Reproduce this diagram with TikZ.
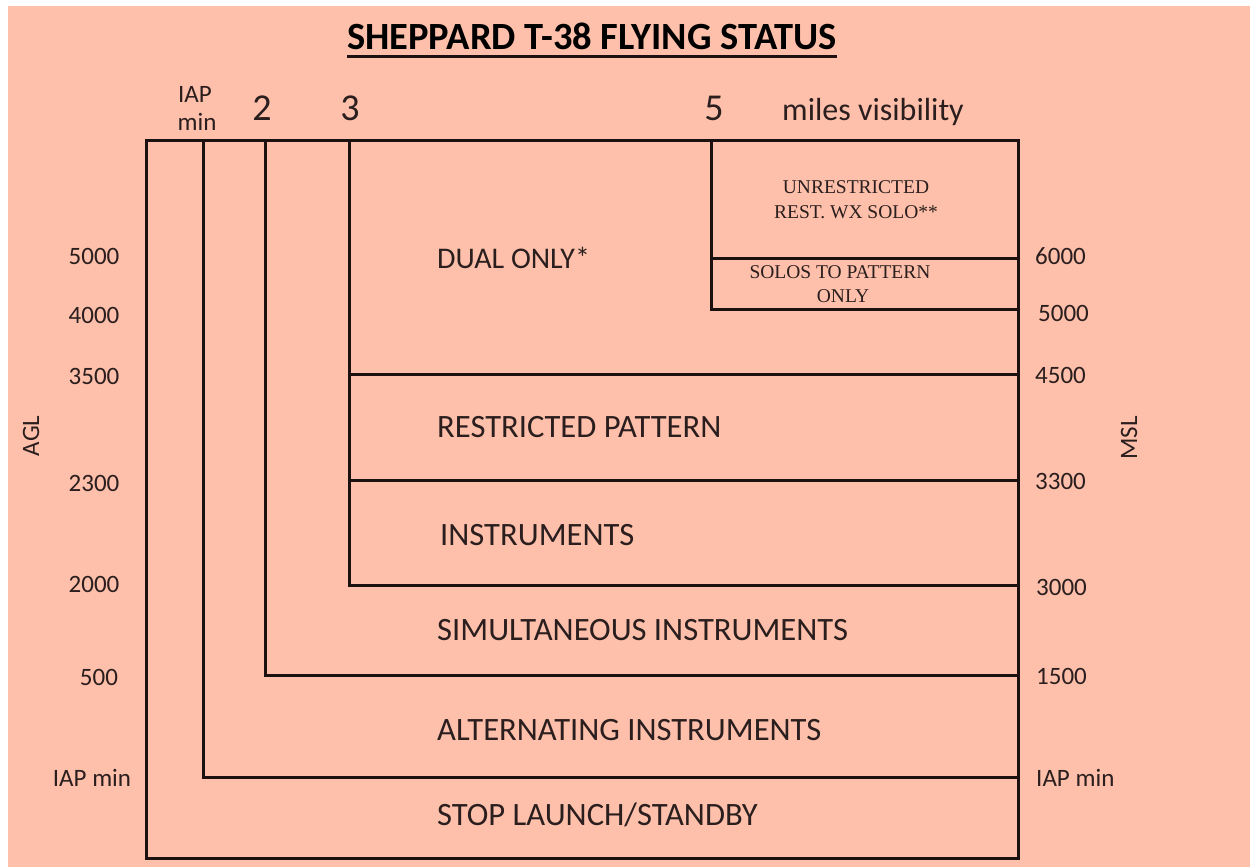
\documentclass[tikz,border=0pt]{standalone}
\usepackage{fontspec}
\setmainfont{Carlito}
\newfontfamily\seriffont{Liberation Serif}
\definecolor{salmon}{RGB}{254,192,170}
\definecolor{ink}{RGB}{28,16,16}
\definecolor{txt}{RGB}{42,30,30}
\tikzset{
  grid line/.style={line width=3pt, draw=ink, line cap=rect},
  zone/.style={anchor=base west, inner sep=0pt, text=txt, font=\fontsize{32.6}{32.6}\selectfont},
  axis/.style={anchor=base, inner sep=0pt, text=txt, font=\fontsize{25}{25}\selectfont},
  raxis/.style={anchor=base west, inner sep=0pt, text=txt, font=\fontsize{25}{25}\selectfont},
  vis/.style={anchor=base, inner sep=0pt, text=txt, font=\fontsize{38}{38}\selectfont},
  small/.style={anchor=base, inner sep=0pt, text=txt, font=\seriffont\fontsize{19.5}{19.5}\selectfont},
}
\begin{document}
\begin{tikzpicture}[x=1pt,y=-1pt]
\useasboundingbox (0,0) rectangle (1250,867);
\fill[white] (0,0) rectangle (1250,867);
\fill[salmon] (8,6) rectangle (1250,867);

% title
\node[anchor=base, inner sep=0pt, font=\bfseries\fontsize{38.5}{38.5}\selectfont] (title) at (592,50) {SHEPPARD T-38 FLYING STATUS};
\draw[line width=3pt, draw=ink] ([yshift=-7pt]title.base west) -- ([yshift=-7pt]title.base east);

% grid
\draw[grid line] (146,140) rectangle (1018,858);
\draw[grid line] (203,140) -- (203,777) -- (1018,777);
\draw[grid line] (265,140) -- (265,675) -- (1018,675);
\draw[grid line] (349,140) -- (349,585) -- (1018,585);
\draw[grid line] (349,480) -- (1018,480);
\draw[grid line] (349,374) -- (1018,374);
\draw[grid line] (711,140) -- (711,309) -- (1018,309);
\draw[grid line] (711,258) -- (1018,258);

% top labels
\node[axis] (iap) at (195,102) {IAP};
\node[axis] (min) at (197,130) {min};
\node[vis] (v2) at (262,120) {2};
\node[vis] (v3) at (350,120) {3};
\node[vis] (v5) at (714,120) {5};
\node[anchor=base, inner sep=0pt, text=txt, font=\fontsize{32}{32}\selectfont] (miles) at (873,120) {miles visibility};

% zone labels
\node[zone, font=\fontsize{30}{30}\selectfont] (dual) at (437,268) {DUAL ONLY*};
\node[zone] (rp) at (437,437) {RESTRICTED PATTERN};
\node[zone] (ins) at (440,545) {INSTRUMENTS};
\node[zone] (sim) at (437,640) {SIMULTANEOUS INSTRUMENTS};
\node[zone] (alt) at (437,740) {ALTERNATING INSTRUMENTS};
\node[zone] (stop) at (437,825) {STOP LAUNCH/STANDBY};

\node[small] (u1) at (856,193) {UNRESTRICTED};
\node[small] (u2) at (856,218) {REST. WX SOLO**};
\node[small] (s1) at (840,278) {SOLOS TO PATTERN};
\node[small] (s2) at (843,302) {ONLY};

% left axis
\node[axis] (l1) at (94,264) {5000};
\node[axis] (l2) at (94,323) {4000};
\node[axis] (l3) at (94,384) {3500};
\node[axis] (l4) at (94,491) {2300};
\node[axis] (l5) at (94,592) {2000};
\node[axis] (l6) at (99,685) {500};
\node[axis] (l7) at (92,786) {IAP min};
\node[inner sep=0pt, text=txt, font=\fontsize{25}{25}\selectfont, rotate=90] (agl) at (31,436) {AGL};

% right axis
\node[raxis] (r1) at (1035,264) {6000};
\node[raxis] (r2) at (1038,321) {5000};
\node[raxis] (r3) at (1035,383) {4500};
\node[raxis] (r4) at (1035,489) {3300};
\node[raxis] (r5) at (1036,595) {3000};
\node[raxis] (r6) at (1036,684) {1500};
\node[raxis] (r7) at (1036,786) {IAP min};
\node[inner sep=0pt, text=txt, font=\fontsize{25}{25}\selectfont, rotate=90] (msl) at (1129,438) {MSL};
\end{tikzpicture}
\end{document}
